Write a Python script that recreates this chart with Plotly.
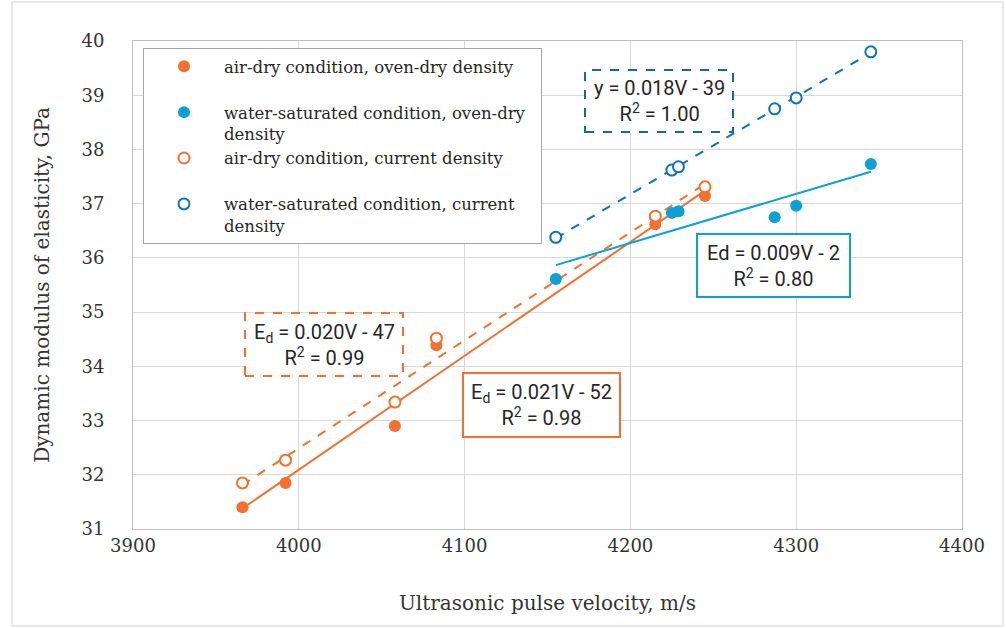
import numpy as np
import plotly.graph_objects as go

# ---- data ----
v_air = [3966, 3992, 4058, 4083, 4215, 4245]
ed_air_oven = [31.40, 31.85, 32.90, 34.39, 36.62, 37.14]
ed_air_curr = [31.85, 32.27, 33.34, 34.52, 36.77, 37.31]

v_wat = [4155, 4225, 4229, 4287, 4300, 4345]
ed_wat_oven = [35.61, 36.83, 36.86, 36.75, 36.96, 37.73]
ed_wat_curr = [36.38, 37.62, 37.68, 38.75, 38.95, 39.80]

x_ticks = [3900, 4000, 4100, 4200, 4300, 4400]
y_ticks = [31, 32, 33, 34, 35, 36, 37, 38, 39, 40]

ORANGE = "#F4702E"
CYAN = "#0AA0D8"
BLUE = "#0A72C2"
DKBLUE = "#1A6A8E"
SERIF = "DejaVu Serif"
SANS = "Roboto"
NB = "\u00a0"


def trend(x, y):
    k, b = np.polyfit(x, y, 1)
    xs = [min(x), max(x)]
    return xs, [k * xs[0] + b, k * xs[1] + b]


fig = go.Figure()

# trend lines
for x, y, col, dash in [
    (v_air, ed_air_oven, ORANGE, "solid"),
    (v_air, ed_air_curr, ORANGE, "dash"),
    (v_wat, ed_wat_oven, CYAN, "solid"),
    (v_wat, ed_wat_curr, BLUE, "dash"),
]:
    tx, ty = trend(x, y)
    fig.add_trace(go.Scatter(x=tx, y=ty, mode="lines", showlegend=False,
                             line=dict(color=col, width=2, dash=dash),
                             hoverinfo="skip"))

# markers
fig.add_trace(go.Scatter(x=v_air, y=ed_air_oven, mode="markers",
                         name="air-dry condition, oven-dry density<br>" + NB,
                         marker=dict(color=ORANGE, size=12, symbol="circle")))
fig.add_trace(go.Scatter(x=v_wat, y=ed_wat_oven, mode="markers",
                         name="water-saturated condition, oven-dry" + NB * 2 + "<br>density",
                         marker=dict(color=CYAN, size=12, symbol="circle")))
fig.add_trace(go.Scatter(x=v_air, y=ed_air_curr, mode="markers",
                         name="air-dry condition, current density<br>" + NB,
                         marker=dict(color="white", size=11, symbol="circle",
                                     line=dict(color=ORANGE, width=2))))
fig.add_trace(go.Scatter(x=v_wat, y=ed_wat_curr, mode="markers",
                         name="water-saturated condition, current<br>density",
                         marker=dict(color="white", size=11, symbol="circle",
                                     line=dict(color=BLUE, width=2))))

# equation boxes (paper coordinates)
def px2paper(px, py):
    return (px - 133) / 829, (529 - py) / 488

boxes = [
    ((585, 70, 733, 132), DKBLUE, "dash", "y = 0.018V - 39<br>R<sup>2</sup> = 1.00"),
    ((697, 234, 850, 297), CYAN, "solid", "Ed = 0.009V - 2<br>R<sup>2</sup> = 0.80"),
    ((245, 313, 403, 376), ORANGE, "dash", "E<sub>d</sub> = 0.020V - 47<br>R<sup>2</sup> = 0.99"),
    ((463, 373, 620, 437), ORANGE, "solid", "E<sub>d</sub> = 0.021V - 52<br>R<sup>2</sup> = 0.98"),
]
for (x0, y0, x1, y1), col, dash, txt in boxes:
    px0, py0 = px2paper(x0, y1)
    px1, py1 = px2paper(x1, y0)
    fig.add_shape(type="rect", xref="paper", yref="paper", x0=px0, y0=py0,
                  x1=px1, y1=py1, line=dict(color=col, width=2, dash=dash),
                  fillcolor="white", layer="above")
    fig.add_annotation(xref="paper", yref="paper", x=(px0 + px1) / 2,
                       y=(py0 + py1) / 2, text=txt, showarrow=False,
                       font=dict(family=SANS, size=20, color="#262626"),
                       align="center", xanchor="center", yanchor="middle")

# outer image frame
fx0, fy0 = px2paper(12, 626)
fx1, fy1 = px2paper(1003, 2)
fig.add_shape(type="rect", xref="paper", yref="paper", x0=fx0, y0=fy0,
              x1=fx1, y1=fy1, line=dict(color="#D0D0D0", width=1))

lx, ly = px2paper(143, 48)
fig.update_layout(
    width=1006, height=628,
    margin=dict(l=133, r=44, t=41, b=99),
    paper_bgcolor="white", plot_bgcolor="white",
    font=dict(family=SERIF, color="#333333"),
    legend=dict(x=lx, y=ly, xanchor="left", yanchor="top",
                bgcolor="white", bordercolor="#A6A6A6", borderwidth=1,
                font=dict(family=SERIF, size=16.5, color="#262626"),
                valign="top", itemwidth=70),
    xaxis=dict(range=[3900, 4400], tickvals=x_ticks,
               ticktext=[str(t) for t in x_ticks],
               showgrid=True, gridcolor="#D9D9D9", gridwidth=1,
               showline=True, linecolor="#BFBFBF", linewidth=1, mirror=True,
               zeroline=False, ticks="",
               tickfont=dict(family=SERIF, size=18, color="#333333"),
               title=dict(text="Ultrasonic pulse velocity, m/s",
                          font=dict(family=SERIF, size=20, color="#333333"),
                          standoff=41)),
    yaxis=dict(range=[31, 40], tickvals=y_ticks,
               ticktext=[str(t) for t in y_ticks],
               showgrid=True, gridcolor="#D9D9D9", gridwidth=1,
               showline=True, linecolor="#BFBFBF", linewidth=1, mirror=True,
               zeroline=False, ticks="", ticklabelstandoff=24,
               tickfont=dict(family=SERIF, size=18, color="#333333"),
               title=dict(text="Dynamic modulus of elasticity, GPa",
                          font=dict(family=SERIF, size=20, color="#333333"),
                          standoff=26)),
)

fig.write_html("out.html", config={"displayModeBar": False},
               post_script="document.body.style.margin='0';")
